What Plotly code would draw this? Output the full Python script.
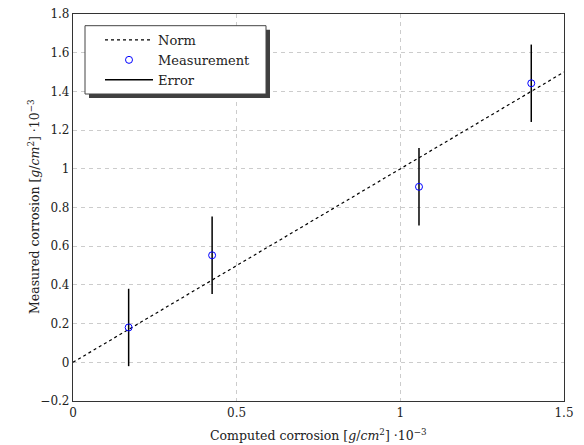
import plotly.graph_objects as go

computed = [0.17, 0.425, 1.057, 1.40]
measured = [0.18, 0.553, 0.907, 1.442]
error = [0.2, 0.2, 0.2, 0.2]
norm_x = [0, 1.5]
norm_y = [0, 1.5]
x_ticks = [0, 0.5, 1, 1.5]
x_tick_labels = ["0", "0.5", "1", "1.5"]
y_ticks = [-0.2, 0, 0.2, 0.4, 0.6, 0.8, 1, 1.2, 1.4, 1.6, 1.8]
y_tick_labels = ["\u22120.2", "0", "0.2", "0.4", "0.6", "0.8", "1", "1.2", "1.4", "1.6", "1.8"]
x_title = "Computed corrosion [<i>g</i>/<i>cm</i><sup>2</sup>] ·10<sup>−3</sup>"
y_title = "Measured corrosion [<i>g</i>/<i>cm</i><sup>2</sup>] ·10<sup>−3</sup>"

FONT = "DejaVu Serif"

err_x, err_y = [], []
for xv, yv, e in zip(computed, measured, error):
    err_x += [xv, xv, None]
    err_y += [yv - e, yv + e, None]

fig = go.Figure()
fig.add_trace(go.Scatter(x=norm_x, y=norm_y, mode="lines", name="Norm",
                         line=dict(color="black", width=1.2, dash="3px,3px"), legendrank=1))
fig.add_trace(go.Scatter(x=err_x, y=err_y, mode="lines", name="Error",
                         line=dict(color="black", width=1.5), legendrank=3))
fig.add_trace(go.Scatter(x=computed, y=measured, mode="markers", name="Measurement",
                         marker=dict(symbol="circle-open", color="blue", size=7, line=dict(width=1)),
                         legendrank=2))

grid = dict(showgrid=True, gridcolor="#cccccc", griddash="4px,4px", gridwidth=1)
fig.update_xaxes(range=[0, 1.5], tickvals=x_ticks, ticktext=x_tick_labels, zeroline=False,
                 showline=True, linecolor="#333333", linewidth=1.2, mirror=True, ticks="",
                 automargin=False, ticklabeloverflow="allow", **grid)
fig.update_yaxes(range=[-0.2, 1.8], tickvals=y_ticks, ticktext=y_tick_labels, zeroline=False,
                 showline=True, linecolor="#333333", linewidth=1.2, mirror=True, ticks="",
                 automargin=False, ticklabeloverflow="allow", **grid)

# page body has an 8px margin; figure sized so the plot lands where the reference has it
OFF = 8
W, H = 584 - OFF, 445 - OFF
PL, PR, PT, PB = 73, 564, 14, 401   # plot area in window pixels
l, r, t, b = PL - OFF, (W + OFF) - PR, PT - OFF, (H + OFF) - PB
pw, ph = PR - PL, PB - PT
def px(xs): return (xs - PL) / pw
def py(ys): return 1 - (ys - PT) / ph

fig.add_shape(type="rect", xref="paper", yref="paper", x0=px(89), x1=px(270), y0=py(98), y1=py(29.7),
              fillcolor="#404040", line=dict(width=0), layer="above")
fig.add_shape(type="rect", xref="paper", yref="paper", x0=px(85), x1=px(266), y0=py(94), y1=py(25.7),
              fillcolor="white", line=dict(color="#444444", width=1), layer="above")

fig.add_annotation(text=x_title, xref="paper", yref="paper", x=px(318), y=py(435),
                   xanchor="center", yanchor="middle", showarrow=False, font=dict(size=12.5))
fig.add_annotation(text=y_title, xref="paper", yref="paper", x=px(34), y=py(207),
                   xanchor="center", yanchor="middle", showarrow=False, textangle=-90,
                   font=dict(size=12.5))

fig.update_layout(
    width=W, height=H, margin=dict(l=l, r=r, t=t, b=b, autoexpand=False),
    plot_bgcolor="white", paper_bgcolor="white",
    font=dict(family=FONT, size=12, color="#222222"),
    legend=dict(x=px(100), y=py(25), xanchor="left", yanchor="top", bgcolor="rgba(0,0,0,0)",
                font=dict(size=13), tracegroupgap=0, itemwidth=48),
    showlegend=True,
)
fig.write_html("out.html")
